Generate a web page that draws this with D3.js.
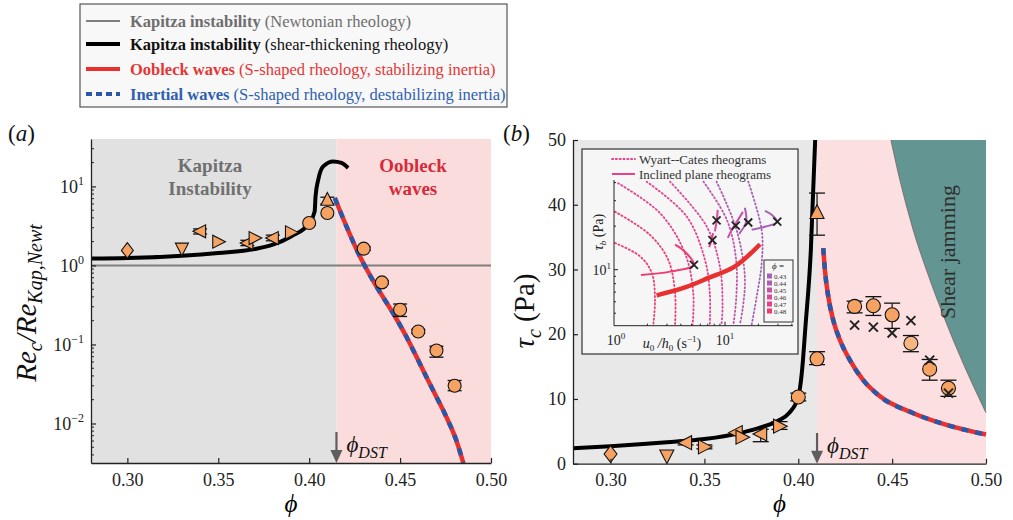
<!DOCTYPE html>
<html><head><meta charset="utf-8">
<script src="https://cdn.jsdelivr.net/npm/d3@7"></script>
<style>
body{margin:0;background:#fff;}
svg, svg text{font-family:"Liberation Serif","Times New Roman",serif;}
</style></head><body>
<svg id="c" width="1013" height="520"></svg>
<script>
// ================= DATA =================
const phiTicks = [0.30, 0.35, 0.40, 0.45, 0.50];
const logTicksA = [-2, -1, 0, 1];
const tauTicksB = [0, 10, 20, 30, 40, 50];
const phiDstA = 0.415;
const phiDstB = 0.41;
const newtLevelA = 1.0;

// panel (a) curves
const kapPhiA = [0.28, 0.30, 0.33, 0.35, 0.37, 0.38, 0.39, 0.40, 0.403, 0.4035, 0.405, 0.4077, 0.4132, 0.4178, 0.4214];
const kapReA  = [1.22, 1.24, 1.33, 1.44, 1.61, 1.83, 2.33, 3.44, 4.8, 7.5, 12.2, 17.9, 20.7, 19.8, 17.1];
const oobPhiA = [0.4141, 0.4205, 0.4269, 0.437, 0.4461, 0.4534, 0.4607, 0.468, 0.4753, 0.4808, 0.4848];
const oobReA  = [7.13, 3.12, 1.45, 0.542, 0.25, 0.126, 0.0582, 0.0267, 0.0123, 0.00622, 0.00315];

// experiments (shared shapes)
const expShape = ['diamond','down','left','right','left','right','left','right','circle','up','circle','circle','circle','circle','circle','circle','circle'];
const expPhiA = [0.30, 0.33, 0.34, 0.35, 0.366, 0.37, 0.38, 0.39, 0.40, 0.41, 0.41, 0.43, 0.44, 0.45, 0.46, 0.47, 0.48];
const expReA  = [1.55, 1.63, 2.7, 2.0, 1.92, 2.22, 2.22, 2.62, 3.44, 6.8, 4.6, 1.63, 0.61, 0.275, 0.146, 0.084, 0.030];
const expLoA  = [null, null, 2.5, null, 1.78, null, 2.05, null, null, 6.0, null, 1.56, 0.58, 0.226, 0.138, 0.069, 0.026];
const expHiA  = [null, null, 2.9, null, 2.08, null, 2.42, null, null, 7.3, null, 1.72, 0.64, 0.325, 0.155, 0.095, 0.035];

// panel (b) curves
const kapPhiB = [0.28, 0.30, 0.33, 0.35, 0.37, 0.38, 0.39, 0.395, 0.40, 0.4015, 0.4025, 0.4037, 0.4067, 0.409];
const kapTauB = [2.4, 2.7, 3.3, 3.8, 4.8, 5.6, 6.75, 7.8, 10.3, 13, 16, 20.7, 33, 50];
const oobPhiB = [0.4133, 0.4142, 0.416, 0.4186, 0.4222, 0.4275, 0.4346, 0.4435, 0.4613, 0.479, 0.50];
const oobTauB = [33.3, 29.9, 25.8, 22.2, 19.1, 16.0, 12.9, 10.4, 7.8, 6.0, 4.5];
const jamPhiB = [0.4494, 0.4542, 0.4613, 0.4702, 0.479, 0.4879, 0.50];
const jamTauB = [50, 43.8, 36.1, 28.4, 21.7, 15.5, 7.9];

const expPhiB = [0.30, 0.33, 0.34, 0.35, 0.367, 0.37, 0.38, 0.39, 0.40, 0.41, 0.41, 0.43, 0.44, 0.45, 0.46, 0.47, 0.48];
const expTauB = [1.5, 1.2, 3.25, 2.6, 4.8, 4.1, 4.6, 5.8, 10.3, 38.8, 16.2, 24.3, 24.4, 23.0, 18.6, 14.6, 11.65];
const expLoB  = [null, null, 2.9, 2.3, null, null, 3.4, 5.3, 9.7, 35.3, 15.3, 23.3, 22.9, 20.9, 17.3, 12.9, 10.4];
const expHiB  = [null, null, 3.6, 2.9, null, null, 5.3, 6.5, 10.9, 41.8, 17.3, 25.1, 25.8, 24.8, 19.8, 16.1, 12.9];
const crossPhiB = [0.43, 0.44, 0.45, 0.46, 0.47, 0.48];
const crossTauB = [21.4, 21.1, 20.2, 22.1, 16.0, 10.9];

// inset
const insetPhi = [0.43, 0.44, 0.45, 0.46, 0.47, 0.48];
const insetPhiColors = ['#a65fb8', '#b35ab2', '#c552a9', '#d94a9c', '#e6418a', '#ef3b73'];
const wcRate = [
  [1.02, 1.71, 2.19, 2.34, 2.26],
  [1.02, 2.11, 3.08, 3.55, 3.55],
  [1.09, 2.6, 4.36, 5.18, 5.11],
  [1.97, 4.52, 6.6, 7.3, 7.3],
  [3.2, 6.84, 9.0, 9.5, 9.3],
  [6.4, 10.4, 12.6, 12.6, 11.9],
  [8.4, 12.7, 15.1, 14.4, 13.6],
  [16.2, 21.4, 21.4, 19.3, 17.4]
];
const wcTau = [
  [15.3, 12.4, 9.5, 6.2, 4.17],
  [25.2, 17.4, 11.7, 6.9, 4.17],
  [39.6, 24.6, 13.0, 6.9, 4.17],
  [40.6, 23.3, 11.7, 6.9, 4.17],
  [40.6, 19.9, 10.5, 5.6, 4.17],
  [40.6, 22.1, 11.7, 6.2, 4.17],
  [40.6, 18.9, 9.0, 5.3, 4.17],
  [40.6, 18.9, 11.1, 6.5, 4.17]
];
const wcColors = ['#ef3b73', '#ef3b73', '#e6418a', '#e6418a', '#d94a9c', '#c552a9', '#b35ab2', '#a65fb8'];
// inclined plane rheograms, order phi 0.43 .. 0.48
const ipRate = [
  [17.4, 22.9, 29.4, 26.5, 22.9],
  [13.4, 15.5, 15.1],
  [10.6, 11.8, 13.1, 14.5],
  [8.1, 8.4, 8.6],
  [7.2, 7.6, 7.8],
  [1.75, 3.2, 5.25, 4.36, 3.55]
];
const ipTau = [
  [18.9, 19.8, 21.4, 23.9, 25.5],
  [17.7, 21.4, 26.8],
  [16.6, 19.5, 22.1, 25.1],
  [18.4, 21.5, 25.9],
  [14.3, 16.1, 17.9],
  [9.2, 9.7, 10.8, 13.3, 14.9]
];
const insetCrossRate = [5.25, 7.7, 8.4, 12.5, 16.2, 29.6];
const insetCrossTau  = [10.8, 16.0, 21.9, 20.2, 21.2, 21.5];
const insetThickRate = [2.42, 4.5, 7.1, 12.2, 20.7];
const insetThickTau  = [6.65, 7.6, 8.77, 10.5, 15.0];

// legend
const legendLabels = [
  ['Kapitza instability', ' (Newtonian rheology)'],
  ['Kapitza instability', ' (shear-thickening rheology)'],
  ['Oobleck waves', ' (S-shaped rheology, stabilizing inertia)'],
  ['Inertial waves', ' (S-shaped rheology, destabilizing inertia)']
];

// ================= STYLE =================
const FONT = '"Liberation Serif","Times New Roman",serif';
const PHI = 'ϕ';
const C = {
  grey: '#7f7f7f', greyText: '#6e6e6e', red: '#e8312f', redText: '#e53535',
  blue: '#2b57a7', blueText: '#2f5fb0', orange: '#f5a262', orangeLight: '#f6b581',
  shadeGreyA: '#e1e1e1', shadePinkA: '#fbdcdc', shadeGreyB: '#e8e8e8', shadePinkB: '#fcdfe0',
  teal: '#639592', arrow: '#5e5e5e'
};
const svg = d3.select('#c');

// ================= SCALES =================
const xA = d3.scaleLinear().domain([0.28, 0.50]).range([91, 491]);
const yA = d3.scaleLog().domain([Math.pow(10, -2.5), Math.pow(10, 1.6)]).range([463, 139]);
const xB = d3.scaleLinear().domain([0.28, 0.50]).range([573, 986]);
const yB = d3.scaleLinear().domain([0, 50]).range([463.7, 140]);
const xI = d3.scaleLog().domain([1, 41]).range([614, 793]);
const yI = d3.scaleLog().domain([4.1, 41.7]).range([325.7, 180]);

function markerPath(shape, s) {
  switch (shape) {
    case 'circle': return d3.symbol(d3.symbolCircle, Math.PI * s * s)();
    case 'diamond': return `M0,${-s*1.2}L${s*0.92},0L0,${s*1.2}L${-s*0.92},0Z`;
    case 'up': return `M0,${-s*1.1}L${s},${s*0.85}L${-s},${s*0.85}Z`;
    case 'down': return `M0,${s*1.1}L${s},${-s*0.85}L${-s},${-s*0.85}Z`;
    case 'left': return `M${-s*1.1},0L${s*0.85},${-s}L${s*0.85},${s}Z`;
    case 'right': return `M${s*1.1},0L${-s*0.85},${-s}L${-s*0.85},${s}Z`;
  }
}

function drawOob(g, line, pts) {
  g.append('path').attr('d', line(pts)).attr('fill', 'none').attr('stroke', C.red).attr('stroke-width', 4.5);
  g.append('path').attr('d', line(pts)).attr('fill', 'none').attr('stroke', C.blue).attr('stroke-width', 4.5).attr('stroke-dasharray', '7,7');
}

function drawExp(g, xs, ys, phis, vals, los, his, s, capW, lightIdx) {
  phis.forEach((p, i) => {
    const cx = xs(p);
    if (los[i] != null) {
      const y1 = ys(los[i]), y2 = ys(his[i]);
      g.append('line').attr('x1', cx).attr('x2', cx).attr('y1', y1).attr('y2', y2).attr('stroke', '#111').attr('stroke-width', 1.2);
      [y1, y2].forEach(yy => g.append('line').attr('x1', cx - capW / 2).attr('x2', cx + capW / 2).attr('y1', yy).attr('y2', yy).attr('stroke', '#111').attr('stroke-width', 1.3));
    }
  });
  phis.forEach((p, i) => {
    g.append('path').attr('d', markerPath(expShape[i], s))
      .attr('transform', `translate(${xs(p)},${ys(vals[i])})`)
      .attr('fill', i === lightIdx ? C.orangeLight : C.orange).attr('stroke', '#111').attr('stroke-width', 1.1);
  });
}

function arrowDst(g, x, yTop, yBot, label) {
  g.append('line').attr('x1', x).attr('x2', x).attr('y1', yTop).attr('y2', yBot - 10).attr('stroke', C.arrow).attr('stroke-width', 2.2);
  g.append('path').attr('d', `M${x - 6},${yBot - 13}L${x + 6},${yBot - 13}L${x},${yBot}Z`).attr('fill', C.arrow);
  const t = g.append('text').attr('x', x + 10).attr('y', yBot - 11).attr('font-size', 23).attr('font-style', 'italic').attr('fill', '#111');
  t.append('tspan').text(PHI);
  t.append('tspan').attr('font-size', 16).attr('dy', 6).text(label);
}

function styleAxis(g) {
  g.attr('font-family', FONT);
  g.select('.domain').attr('stroke', '#222').attr('stroke-width', 1.3);
  g.selectAll('.tick line').attr('stroke', '#222').attr('stroke-width', 1.2);
  g.selectAll('.tick text').attr('font-family', FONT).attr('font-size', 18).attr('fill', '#222');
}

// ================= LEGEND =================
const leg = svg.append('g');
leg.append('rect').attr('x', 80).attr('y', 4).attr('width', 427).attr('height', 103).attr('fill', '#f8f8f8').attr('stroke', '#555').attr('stroke-width', 1.2);
const legRowY = [21, 44, 69, 94];
const legTextColors = [C.greyText, '#111', C.redText, C.blueText];
const legStroke = [C.grey, '#000', C.red, C.blue];
const legWidth = [2, 4, 4, 4];
const legDash = [null, null, null, '6,4'];
legendLabels.forEach((lab, i) => {
  const y = legRowY[i];
  leg.append('line').attr('x1', 86).attr('x2', 120).attr('y1', y).attr('y2', y).attr('stroke', legStroke[i]).attr('stroke-width', legWidth[i]).attr('stroke-dasharray', legDash[i]);
  const t = leg.append('text').attr('x', 130).attr('y', y + 6).attr('font-size', 16.5).attr('fill', legTextColors[i]);
  t.append('tspan').attr('font-weight', 'bold').text(lab[0]);
  t.append('tspan').text(lab[1]);
});

// ================= PANEL A =================
const gA = svg.append('g');
gA.append('rect').attr('x', xA(0.28)).attr('y', 139).attr('width', xA(phiDstA) - xA(0.28)).attr('height', 324).attr('fill', C.shadeGreyA);
gA.append('rect').attr('x', xA(phiDstA)).attr('y', 139).attr('width', xA(0.50) - xA(phiDstA)).attr('height', 324).attr('fill', C.shadePinkA);
gA.append('line').attr('x1', xA(0.28)).attr('x2', xA(0.50)).attr('y1', yA(newtLevelA)).attr('y2', yA(newtLevelA)).attr('stroke', C.grey).attr('stroke-width', 2);
const lineA = d3.line().x(d => xA(d[0])).y(d => yA(d[1])).curve(d3.curveMonotoneX);
gA.append('path').attr('d', lineA(kapPhiA.map((p, i) => [p, kapReA[i]]))).attr('fill', 'none').attr('stroke', '#000').attr('stroke-width', 4);
drawOob(gA, lineA, oobPhiA.map((p, i) => [p, oobReA[i]]));
drawExp(gA, xA, yA, expPhiA, expReA, expLoA, expHiA, 6.5, 14, -1);
[['Kapitza', 172], ['Instability', 195]].forEach(d => gA.append('text').attr('x', 210).attr('y', d[1]).attr('text-anchor', 'middle').attr('font-size', 19).attr('font-weight', 'bold').attr('fill', '#707070').text(d[0]));
[['Oobleck', 172], ['waves', 195]].forEach(d => gA.append('text').attr('x', 413).attr('y', d[1]).attr('text-anchor', 'middle').attr('font-size', 19).attr('font-weight', 'bold').attr('fill', '#d62a3b').text(d[0]));
arrowDst(gA, xA(phiDstA), 432, 463, 'DST');
const axAx = gA.append('g').attr('transform', 'translate(0,463)').call(d3.axisBottom(xA).tickValues(phiTicks).tickFormat(d3.format('.2f')).tickSizeInner(-5).tickSizeOuter(0).tickPadding(10));
styleAxis(axAx);
const axAy = gA.append('g').attr('transform', 'translate(91,0)').call(d3.axisLeft(yA).tickValues(logTicksA.map(e => Math.pow(10, e))).tickSizeInner(-5).tickSizeOuter(0).tickPadding(7).tickFormat(''));
styleAxis(axAy);
axAy.selectAll('.tick text').each(function (d) {
  const t = d3.select(this); const e = Math.round(Math.log10(d));
  t.append('tspan').text('10');
  t.append('tspan').attr('font-size', 12).attr('dy', -8).text(e < 0 ? '−' + Math.abs(e) : String(e));
});
for (let e = -3; e <= 1; e++) for (let m = 2; m <= 9; m++) {
  const v = m * Math.pow(10, e);
  if (v < yA.domain()[0] || v > yA.domain()[1]) continue;
  gA.append('line').attr('x1', 91).attr('x2', 94).attr('y1', yA(v)).attr('y2', yA(v)).attr('stroke', '#222').attr('stroke-width', 1);
}
gA.append('text').attr('x', xA(0.39)).attr('y', 512).attr('text-anchor', 'middle').attr('font-size', 25).attr('font-style', 'italic').text(PHI);
const ylabA = gA.append('text').attr('transform', 'translate(36,303) rotate(-90)').attr('text-anchor', 'middle').attr('font-size', 29).attr('font-style', 'italic').attr('fill', '#111');
ylabA.append('tspan').text('Re');
ylabA.append('tspan').attr('font-size', 20).attr('dy', 6).text('c');
ylabA.append('tspan').attr('dy', -6).text('/Re');
ylabA.append('tspan').attr('font-size', 20).attr('dy', 6).text('Kap,Newt');
svg.append('text').attr('x', 8).attr('y', 141).attr('font-size', 23).attr('fill', '#111').html('(<tspan font-style="italic">a</tspan>)');

// ================= PANEL B =================
const gB = svg.append('g');
gB.append('rect').attr('x', xB(0.28)).attr('y', 140).attr('width', xB(phiDstB) - xB(0.28)).attr('height', 323.7).attr('fill', C.shadeGreyB);
gB.append('rect').attr('x', xB(phiDstB)).attr('y', 140).attr('width', xB(0.50) - xB(phiDstB)).attr('height', 323.7).attr('fill', C.shadePinkB);
const linB = d3.line().x(d => xB(d[0])).y(d => yB(d[1])).curve(d3.curveMonotoneX);
const jamPts = jamPhiB.map((p, i) => [p, jamTauB[i]]);
gB.append('path').attr('d', linB(jamPts) + `L${xB(0.50)},${yB(50)}Z`).attr('fill', C.teal);
gB.append('path').attr('d', linB(jamPts)).attr('fill', 'none').attr('stroke', '#7a7a7a').attr('stroke-width', 1.2);
gB.append('text').attr('transform', `translate(955,${yB(32.7)}) rotate(-90)`).attr('text-anchor', 'middle').attr('font-size', 22).attr('fill', '#2d2d2d').text('Shear jamming');
gB.append('path').attr('d', linB(kapPhiB.map((p, i) => [p, kapTauB[i]]))).attr('fill', 'none').attr('stroke', '#000').attr('stroke-width', 4);
drawOob(gB, linB, oobPhiB.map((p, i) => [p, oobTauB[i]]));
drawExp(gB, xB, yB, expPhiB, expTauB, expLoB, expHiB, 7, 16, 14);
crossPhiB.forEach((p, i) => {
  const cx = xB(p), cy = yB(crossTauB[i]), r = 4.5;
  gB.append('path').attr('d', `M${cx - r},${cy - r}L${cx + r},${cy + r}M${cx - r},${cy + r}L${cx + r},${cy - r}`).attr('stroke', '#222').attr('stroke-width', 2);
});
arrowDst(gB, xB(phiDstB), 433, 463.7, 'DST');
const axBx = gB.append('g').attr('transform', 'translate(0,463.7)').call(d3.axisBottom(xB).tickValues(phiTicks).tickFormat(d3.format('.2f')).tickSizeInner(-5).tickSizeOuter(0).tickPadding(10));
styleAxis(axBx);
const axBy = gB.append('g').attr('transform', 'translate(573,0)').call(d3.axisLeft(yB).tickValues(tauTicksB).tickSizeInner(-5).tickSizeOuter(0).tickPadding(7));
styleAxis(axBy);
gB.append('text').attr('x', xB(0.39)).attr('y', 512).attr('text-anchor', 'middle').attr('font-size', 25).attr('font-style', 'italic').text(PHI);
const ylabB = gB.append('text').attr('transform', 'translate(534,311) rotate(-90)').attr('text-anchor', 'middle').attr('font-size', 29).attr('fill', '#111');
ylabB.append('tspan').attr('font-style', 'italic').text('τ');
ylabB.append('tspan').attr('font-style', 'italic').attr('font-size', 20).attr('dy', 7).text('c');
ylabB.append('tspan').attr('dy', -7).text(' (Pa)');
svg.append('text').attr('x', 503).attr('y', 141).attr('font-size', 23).attr('fill', '#111').html('(<tspan font-style="italic">b</tspan>)');

// ================= INSET =================
const gI = svg.append('g');
gI.append('rect').attr('x', 582).attr('y', 149).attr('width', 216).attr('height', 205).attr('fill', '#f6f6f6').attr('stroke', '#333').attr('stroke-width', 1.2);
const linI = d3.line().x(d => xI(d[0])).y(d => yI(d[1])).curve(d3.curveCatmullRom.alpha(0.5));
wcRate.forEach((xs, k) => {
  gI.append('path').attr('d', linI(xs.map((x, i) => [x, wcTau[k][i]]))).attr('fill', 'none').attr('stroke', wcColors[k]).attr('stroke-width', 1.8).attr('stroke-dasharray', '1.2,2.6').attr('stroke-linecap', 'round');
});
ipRate.forEach((xs, k) => {
  gI.append('path').attr('d', linI(xs.map((x, i) => [x, ipTau[k][i]]))).attr('fill', 'none').attr('stroke', insetPhiColors[k]).attr('stroke-width', 2);
});
gI.append('path').attr('d', linI(insetThickRate.map((x, i) => [x, insetThickTau[i]]))).attr('fill', 'none').attr('stroke', C.red).attr('stroke-width', 4.5);
insetCrossRate.forEach((x, i) => {
  const cx = xI(x), cy = yI(insetCrossTau[i]), r = 4;
  gI.append('path').attr('d', `M${cx - r},${cy - r}L${cx + r},${cy + r}M${cx - r},${cy + r}L${cx + r},${cy - r}`).attr('stroke', '#222').attr('stroke-width', 1.8);
});
gI.append('line').attr('x1', 614).attr('x2', 614).attr('y1', 180).attr('y2', 325.7).attr('stroke', '#222').attr('stroke-width', 1);
gI.append('line').attr('x1', 614).attr('x2', 793).attr('y1', 325.7).attr('y2', 325.7).attr('stroke', '#222').attr('stroke-width', 1);
[2, 3, 4, 5, 6, 7, 8, 9, 10, 20, 30, 40].forEach(v => {
  const len = v === 10 ? 4 : 2;
  gI.append('line').attr('x1', xI(v)).attr('x2', xI(v)).attr('y1', 325.7).attr('y2', 325.7 - len).attr('stroke', '#222');
});
[5, 6, 7, 8, 9, 10, 20, 30, 40].forEach(v => {
  const len = v === 10 ? 4 : 2;
  gI.append('line').attr('x1', 614).attr('x2', 614 + len).attr('y1', yI(v)).attr('y2', yI(v)).attr('stroke', '#222');
});
function pow10Label(x, y, e, anchor) {
  const t = gI.append('text').attr('x', x).attr('y', y).attr('font-size', 14).attr('text-anchor', anchor).attr('fill', '#222');
  t.append('tspan').text('10');
  t.append('tspan').attr('font-size', 9).attr('dy', -6).text(e);
}
pow10Label(xI(1) + 2, 345, '0', 'middle');
pow10Label(xI(10), 345, '1', 'middle');
pow10Label(611, yI(10) + 5, '1', 'end');
const xlabI = gI.append('text').attr('x', 672).attr('y', 348).attr('text-anchor', 'middle').attr('font-size', 14).attr('fill', '#222');
xlabI.append('tspan').attr('font-style', 'italic').text('u');
xlabI.append('tspan').attr('font-size', 9).attr('dy', 3).text('0');
xlabI.append('tspan').attr('dy', -3).attr('font-style', 'italic').text(' /h');
xlabI.append('tspan').attr('font-size', 9).attr('dy', 3).text('0');
xlabI.append('tspan').attr('dy', -3).text(' (s');
xlabI.append('tspan').attr('font-size', 9).attr('dy', -6).text('−1');
xlabI.append('tspan').attr('dy', 6).text(')');
const ylabI = gI.append('text').attr('transform', 'translate(603,232) rotate(-90)').attr('text-anchor', 'middle').attr('font-size', 14).attr('fill', '#222');
ylabI.append('tspan').attr('font-style', 'italic').text('τ');
ylabI.append('tspan').attr('font-style', 'italic').attr('font-size', 9).attr('dy', 3).text('b');
ylabI.append('tspan').attr('dy', -3).text(' (Pa)');
gI.append('line').attr('x1', 612).attr('x2', 635).attr('y1', 159).attr('y2', 159).attr('stroke', '#e6418a').attr('stroke-width', 1.8).attr('stroke-dasharray', '1.2,2.6').attr('stroke-linecap', 'round');
gI.append('line').attr('x1', 612).attr('x2', 635).attr('y1', 174).attr('y2', 174).attr('stroke', '#e6418a').attr('stroke-width', 2);
gI.append('text').attr('x', 639).attr('y', 163.5).attr('font-size', 13).attr('fill', '#333').text('Wyart--Cates rheograms');
gI.append('text').attr('x', 639).attr('y', 178.5).attr('font-size', 13).attr('fill', '#333').text('Inclined plane rheograms');
gI.append('rect').attr('x', 764).attr('y', 260).attr('width', 29).attr('height', 62).attr('fill', '#f6f6f6').attr('stroke', '#333').attr('stroke-width', 1);
gI.append('text').attr('x', 778).attr('y', 269).attr('text-anchor', 'middle').attr('font-size', 9).attr('fill', '#222').html(`<tspan font-style="italic">${PHI}</tspan> =`);
insetPhi.forEach((p, i) => {
  const yy = 276 + i * 7;
  gI.append('rect').attr('x', 767).attr('y', yy - 2.5).attr('width', 5).attr('height', 5).attr('fill', insetPhiColors[i]);
  gI.append('text').attr('x', 774).attr('y', yy + 2.5).attr('font-size', 7).attr('fill', '#333').text(p.toFixed(2));
});
</script>
</body></html>
